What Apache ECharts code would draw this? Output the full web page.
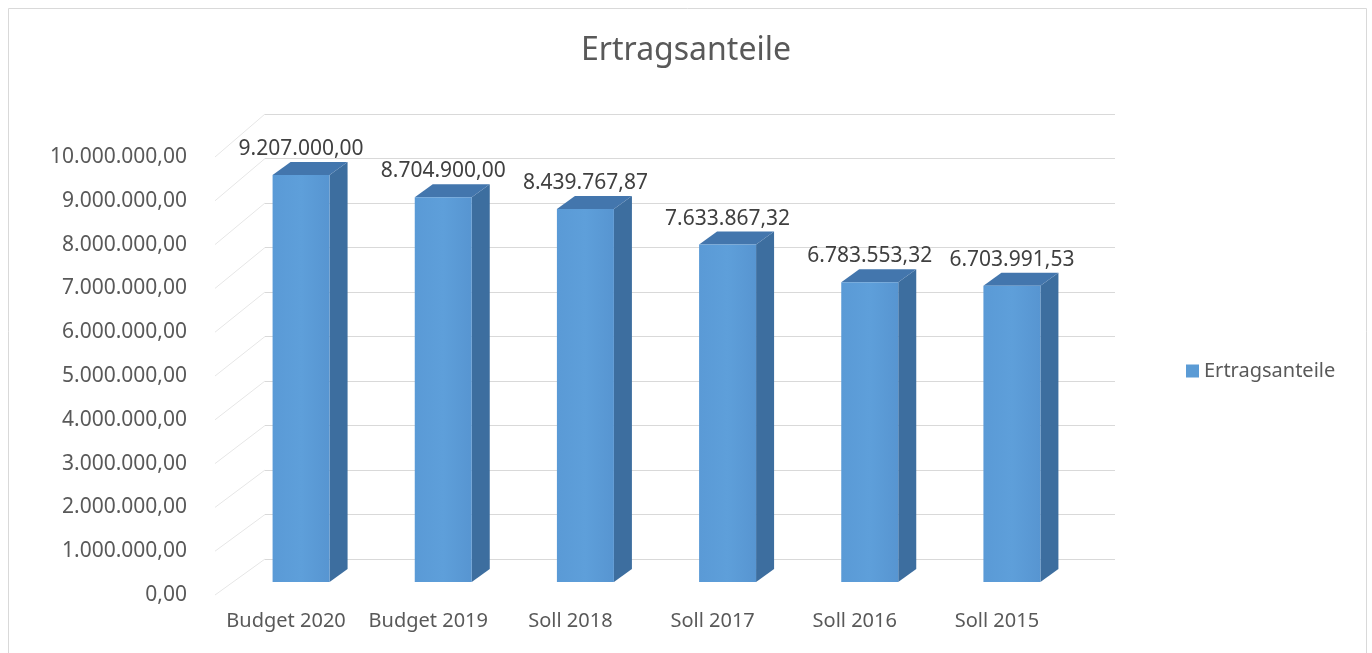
<!DOCTYPE html>
<html>
<head>
<meta charset="utf-8">
<script src="https://cdn.jsdelivr.net/npm/echarts@6/dist/echarts.min.js"></script>
<style>
  html, body { margin: 0; padding: 0; background: #fff; }
  #chart { width: 1372px; height: 653px; }
</style>
</head>
<body>
<div id="chart"></div>
<script>
  const categories = ['Budget 2020', 'Budget 2019', 'Soll 2018', 'Soll 2017', 'Soll 2016', 'Soll 2015']
  const values = [9207000.00, 8704900.00, 8439767.87, 7633867.32, 6783553.32, 6703991.53]
  const yTicks = [0, 1000000, 2000000, 3000000, 4000000, 5000000, 6000000, 7000000, 8000000, 9000000, 10000000]

  const textColor = '#595959'
  const font = '"Noto Sans", sans-serif'

  // 1.234.567,89
  const fmt = (v) => {
    const parts = Number(v).toFixed(2).split('.')
    const int = parts[0].replace(/\B(?=(\d{3})+(?!\d))/g, '.')
    return int + ',' + parts[1]
  }

  const chart = echarts.init(document.getElementById('chart'))

  const depthX = 18
  const depthY = -13
  const barW = 57

  chart.setOption({
    animation: false,
    title: {
      text: 'Ertragsanteile',
      left: 'center',
      top: 30,
      textStyle: { color: textColor, fontSize: 32, fontWeight: 'normal', fontFamily: font }
    },
    legend: {
      left: 1181,
      top: 356,
      icon: 'rect',
      itemWidth: 13,
      itemHeight: 13,
      textStyle: { color: textColor, fontSize: 20, fontFamily: font },
      data: ['Ertragsanteile']
    },
    graphic: [
      {
        type: 'rect',
        shape: { x: 8.5, y: 8.5, width: 1358, height: 680 },
        style: { fill: 'none', stroke: '#d9d9d9', lineWidth: 1 },
        silent: true
      }
    ],
    grid: [
      // front plane: axis labels
      { left: 215, top: 157, width: 853, height: 438 },
      // back wall: gridlines
      { left: 265, top: 114, width: 850, height: 445 },
      // bars
      { left: 230, top: 140, width: 853, height: 442 }
    ],
    xAxis: [
      {
        gridIndex: 0,
        type: 'category',
        data: categories,
        axisLine: { show: false },
        axisTick: { show: false },
        axisLabel: { color: textColor, fontSize: 20, fontFamily: font, margin: 16, interval: 0 }
      },
      { gridIndex: 1, type: 'category', data: categories, show: false },
      { gridIndex: 2, type: 'category', data: categories, show: false }
    ],
    yAxis: [
      {
        gridIndex: 0,
        type: 'value',
        min: 0,
        max: 10000000,
        interval: 1000000,
        axisLine: { show: false },
        axisTick: { show: false },
        splitLine: { show: false },
        axisLabel: { color: textColor, fontSize: 21, fontFamily: font, margin: 28, formatter: fmt }
      },
      {
        gridIndex: 1,
        type: 'value',
        min: 0,
        max: 10000000,
        interval: 1000000,
        axisLine: { show: false },
        axisTick: { show: false },
        axisLabel: { show: false },
        splitLine: { show: true, lineStyle: { color: '#d9d9d9', width: 1 } }
      },
      {
        gridIndex: 2,
        type: 'value',
        min: 0,
        max: 10000000,
        show: false,
        splitLine: { show: false }
      }
    ],
    series: [
      {
        // side wall lines
        type: 'custom',
        xAxisIndex: 0,
        yAxisIndex: 0,
        silent: true,
        data: yTicks.map((v) => [0, v]),
        renderItem: (params, api) => {
          const p = api.coord([0, api.value(1)])
          const x0 = params.coordSys.x
          const lift = 36 + (api.value(1) / 1000000) * 0.7
          return {
            type: 'line',
            shape: { x1: x0, y1: p[1], x2: x0 + 50, y2: p[1] - lift },
            style: { stroke: '#e6e6e6', lineWidth: 1 }
          }
        }
      },
      {
        name: 'Ertragsanteile',
        type: 'custom',
        xAxisIndex: 2,
        yAxisIndex: 2,
        itemStyle: { color: '#5B9BD5' },
        data: values.map((v, i) => [i, v]),
        renderItem: (params, api) => {
          const top = api.coord([api.value(0), api.value(1)])
          const base = api.coord([api.value(0), 0])
          const x0 = top[0] - barW / 2
          const x1 = x0 + barW
          return {
            type: 'group',
            children: [
              {
                type: 'polygon',
                shape: {
                  points: [
                    [x1, top[1]], [x1 + depthX, top[1] + depthY],
                    [x1 + depthX, base[1] + depthY], [x1, base[1]]
                  ]
                },
                style: { fill: '#3D6E9F' }
              },
              {
                type: 'polygon',
                shape: {
                  points: [
                    [x0, top[1]], [x0 + depthX, top[1] + depthY],
                    [x1 + depthX, top[1] + depthY], [x1, top[1]]
                  ]
                },
                style: { fill: '#4376AD' }
              },
              {
                type: 'rect',
                shape: { x: x0, y: top[1], width: barW, height: base[1] - top[1] },
                style: {
                  fill: new echarts.graphic.LinearGradient(0, 0, 1, 0, [
                    { offset: 0, color: '#5A9AD6' },
                    { offset: 0.5, color: '#5E9FDA' },
                    { offset: 1, color: '#5795D1' }
                  ])
                }
              },
              {
                type: 'text',
                style: {
                  x: top[0],
                  y: top[1] + depthY - 13,
                  text: fmt(api.value(1)),
                  fill: '#404040',
                  font: '21px ' + font,
                  align: 'center',
                  verticalAlign: 'middle'
                }
              }
            ]
          }
        }
      }
    ]
  })

  window.addEventListener('resize', () => chart.resize())
</script>
</body>
</html>
